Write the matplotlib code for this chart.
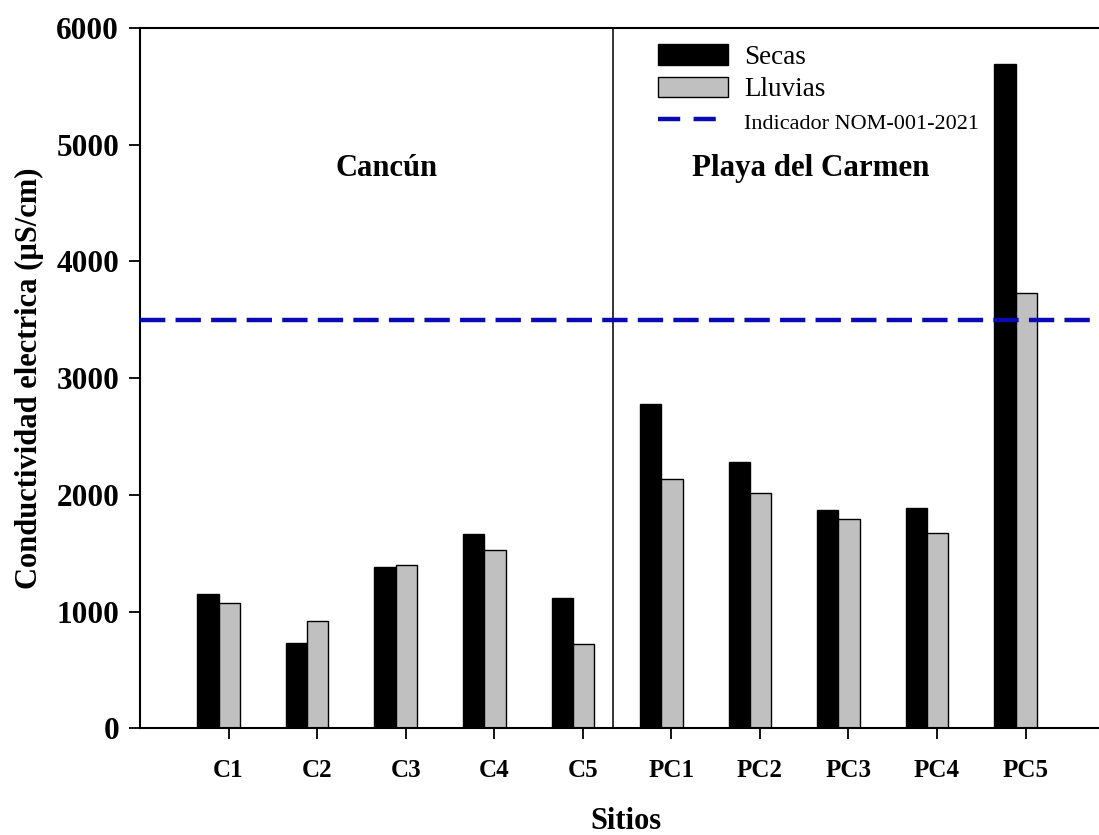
import numpy as np
import matplotlib.pyplot as plt
from matplotlib.patches import Patch
from matplotlib.lines import Line2D

plt.rcParams['font.family'] = ['Liberation Serif', 'DejaVu Serif']

sitios = ['C1', 'C2', 'C3', 'C4', 'C5', 'PC1', 'PC2', 'PC3', 'PC4', 'PC5']
secas = [1148, 733, 1385, 1667, 1114, 2777, 2279, 1868, 1888, 5690]
lluvias = [1076, 919, 1399, 1530, 720, 2139, 2016, 1796, 1671, 3727]
nom_limite = 3500

x = np.arange(len(sitios))
w = 0.24

fig = plt.figure(figsize=(10.99, 8.35), dpi=100)
ax = fig.add_axes([0.1274, 0.1278, 0.8726, 0.8387])

ax.bar(x - 0.232, secas, width=w, color='black', edgecolor='black', linewidth=1.0)
ax.bar(x + 0.008, lluvias, width=w, color='#c0c0c0', edgecolor='black', linewidth=1.0)
ax.axhline(nom_limite, color='#0a0ab4', linewidth=3.2, dashes=(5.7, 2.3), zorder=3)

# separador entre ciudades
ax.axvline(4.34, color='black', linewidth=1.1)

ax.text(1.78, 4800, 'Cancún', fontsize=22, fontweight='bold', ha='center', va='center')
ax.text(6.58, 4800, 'Playa del Carmen', fontsize=22.3, fontweight='bold', ha='center', va='center')

ax.set_xlim(-1.0, 9.83)
ax.set_ylim(0, 6000)
ax.set_xticks(x)
ax.set_xticklabels(sitios)
ax.set_yticks(np.arange(0, 6001, 1000))

for lab in ax.get_xticklabels():
    lab.set_fontweight('bold')
    lab.set_fontsize(18)
for lab in ax.get_yticklabels():
    lab.set_fontweight('bold')
    lab.set_fontsize(22.5)

ax.tick_params(axis='both', direction='out', length=8, width=1.3)
ax.tick_params(axis='x', pad=14)
ax.tick_params(axis='y', pad=7)

ax.spines['right'].set_visible(False)
for s in ['left', 'top', 'bottom']:
    ax.spines[s].set_linewidth(1.5)

ax.set_xlabel('Sitios', fontsize=22, fontweight='bold')
ax.xaxis.set_label_coords(0.507, -0.113)
ax.set_ylabel('Conductividad electrica (µS/cm)', fontsize=22, fontweight='bold')
ax.yaxis.set_label_coords(-0.1, 0.5)

handles = [Patch(facecolor='black', edgecolor='black'),
           Patch(facecolor='#c0c0c0', edgecolor='black'),
           Line2D([], [], color='#0a0ab4', linewidth=3.2, dashes=(5, 3))]
labels = ['Secas', 'Lluvias', 'Indicador NOM-001-2021']
leg = ax.legend(handles, labels, loc='upper left', bbox_to_anchor=(0.5285, 0.992),
                frameon=False, fontsize=19.5, handlelength=2.6, handleheight=0.8,
                handletextpad=0.6, labelspacing=0.24, borderaxespad=0)
leg.get_texts()[2].set_fontsize(16)

fig.savefig('out.png', dpi=100)
